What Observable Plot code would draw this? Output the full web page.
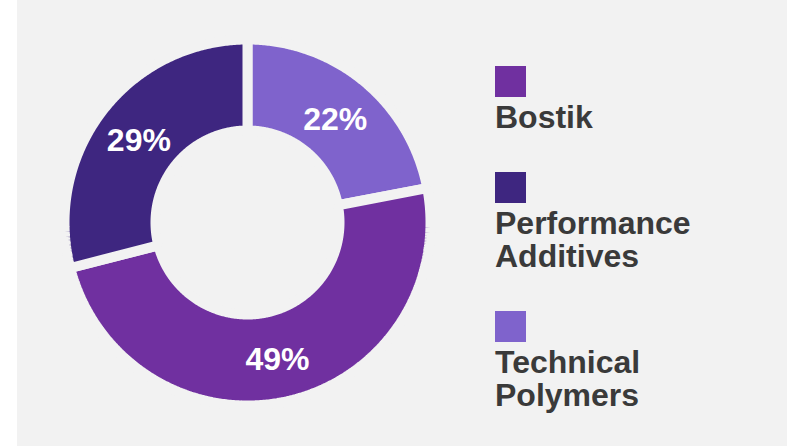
<!DOCTYPE html>
<html>
<head>
<meta charset="utf-8">
<script src="https://cdn.jsdelivr.net/npm/d3@7"></script>
<script src="https://cdn.jsdelivr.net/npm/@observablehq/plot@0.6"></script>
<style>
  html, body { margin: 0; padding: 0; background: #ffffff; }
  #wrap { position: relative; width: 787px; height: 446px; overflow: hidden; background: #ffffff; }
  #panel { position: absolute; left: 17px; top: 0; right: 0; bottom: 0; background: #f2f2f2; }
  #chart { position: absolute; left: 0; top: 0; }
  #chart svg { background: transparent !important; }
  #legend { position: absolute; left: 495px; top: 66px; width: 230px;
    font-family: "Liberation Sans", Arial, sans-serif; font-weight: bold; font-size: 32px;
    line-height: 33px; color: #3a3a3a; }
  .item { margin-bottom: 38px; }
  .sw { width: 31px; height: 31px; }
  .lab { margin-top: 4px; }
</style>
</head>
<body>
<div id="wrap">
  <div id="panel"></div>
  <div id="chart"></div>
  <div id="legend"></div>
</div>
<script>
// Slices, clockwise from 12 o'clock
const categories = ["Technical Polymers", "Bostik", "Performance Additives"];
const shares = [22, 49, 29];
const colors = ["#7f63cc", "#7030a0", "#3e2680"];
const sliceLabels = ["22%", "49%", "29%"];
// Legend order
const legendOrder = ["Bostik", "Performance Additives", "Technical Polymers"];

// Geometry (pixels)
const W = 787, H = 446;
const cx = 247, cy = 222;
const gap = 10;
const rOuterVis = 178, rInnerVis = 97;
const rOuter = rOuterVis + gap / 2, rInner = rInnerVis - gap / 2;
const rLabel = (rOuterVis + rInnerVis) / 2;

const pie = d3.pie().sort(null).value(d => d.share).startAngle(0).endAngle(2 * Math.PI);
const table = categories.map((k, i) => ({k, share: shares[i], label: sliceLabels[i]}));
const arcs = pie(table);

const pts = [];
for (const a of arcs) {
  const n = Math.max(8, Math.ceil((a.endAngle - a.startAngle) / (Math.PI / 360)));
  for (let j = 0; j <= n; j++) {
    const t = a.startAngle + (a.endAngle - a.startAngle) * j / n;
    pts.push({k: a.data.k, x: rOuter * Math.sin(t), y: rOuter * Math.cos(t)});
  }
  for (let j = n; j >= 0; j--) {
    const t = a.startAngle + (a.endAngle - a.startAngle) * j / n;
    pts.push({k: a.data.k, x: rInner * Math.sin(t), y: rInner * Math.cos(t)});
  }
}
const labelPts = arcs.map(a => {
  const m = (a.startAngle + a.endAngle) / 2;
  return {label: a.data.label, x: rLabel * Math.sin(m), y: rLabel * Math.cos(m)};
});

const chart = Plot.plot({
  width: W, height: H,
  margin: 0,
  style: {background: "transparent"},
  x: {domain: [-cx, W - cx], axis: null},
  y: {domain: [cy - H, cy], axis: null},
  color: {domain: categories, range: colors},
  marks: [
    Plot.line(pts, {x: "x", y: "y", z: "k", fill: "k", curve: "linear-closed",
      stroke: "#f2f2f2", strokeWidth: gap, strokeLinejoin: "miter"}),
    Plot.text(labelPts, {x: "x", y: "y", text: "label", fill: "white", dy: 3,
      fontSize: 32, fontWeight: "bold", fontFamily: "Liberation Sans, Arial, sans-serif"})
  ]
});
document.getElementById("chart").appendChild(chart);

const legend = document.getElementById("legend");
for (const k of legendOrder) {
  const item = document.createElement("div");
  item.className = "item";
  const sw = document.createElement("div");
  sw.className = "sw";
  sw.style.background = colors[categories.indexOf(k)];
  const lab = document.createElement("div");
  lab.className = "lab";
  lab.textContent = k;
  item.appendChild(sw);
  item.appendChild(lab);
  legend.appendChild(item);
}
</script>
</body>
</html>
